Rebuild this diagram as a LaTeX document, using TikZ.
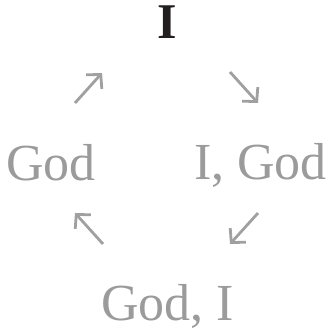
\documentclass[tikz,border=0pt]{standalone}
\usepackage{fontspec}
\setmainfont{Liberation Serif}
\usetikzlibrary{arrows.meta}
\definecolor{txtgray}{HTML}{9B9B9B}
\definecolor{arrgray}{HTML}{A0A0A0}
\definecolor{topblack}{HTML}{231F20}
\begin{document}
\begin{tikzpicture}[x=1pt,y=-1pt,
  word/.style={anchor=base,inner sep=0pt,text=txtgray,font=\fontsize{52}{60}\selectfont},
  topword/.style={anchor=base,inner sep=0pt,text=topblack,font=\fontsize{50}{58}\selectfont\bfseries},
  arr/.style={draw=arrgray,line width=2.8pt,-{Straight Barb[length=10pt,width=21pt,line width=2.8pt]}}]
\useasboundingbox (0,0) rectangle (330,331);
\node[topword] (i) at (167.5,39) {I};
\node[word] (god) at (51,180) {God};
\node[word] (igod) at (260.5,179) {I, God};
\node[word] (godi) at (167.5,320) {God, I};
\coordinate (a1s) at (75,103); \coordinate (a1e) at (102,73);
\coordinate (a2s) at (230,72); \coordinate (a2e) at (258,103);
\coordinate (a3s) at (103,244); \coordinate (a3e) at (75,213);
\coordinate (a4s) at (258,213); \coordinate (a4e) at (230,244);
\draw[arr] (a1s) -- (a1e);
\draw[arr] (a2s) -- (a2e);
\draw[arr] (a3s) -- (a3e);
\draw[arr] (a4s) -- (a4e);
\end{tikzpicture}
\end{document}
